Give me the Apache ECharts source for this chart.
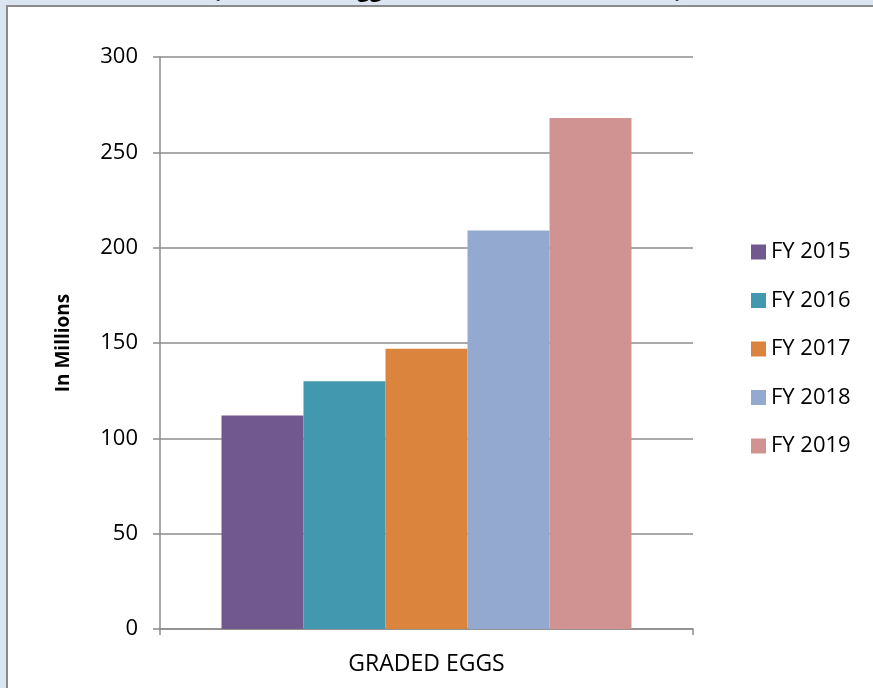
<!DOCTYPE html>
<html>
<head>
<meta charset="utf-8">
<title>Graded Eggs</title>
<script src="https://cdn.jsdelivr.net/npm/echarts@6/dist/echarts.min.js"></script>
<style>
  html, body { margin: 0; padding: 0; background: #dbe5f1; }
  #frame {
    position: absolute; left: 6px; top: 5px; width: 900px; height: 700px;
    background: #ffffff; border: 2px solid #8a8a8a; box-sizing: border-box;
  }
  #chart { position: absolute; left: 0; top: 0; width: 873px; height: 688px; }
</style>
</head>
<body>
<div id="frame"></div>
<div id="chart"></div>
<script>
// Graded egg volume per fiscal year, in millions
const categories = ['GRADED EGGS'];
const seriesNames = ['FY 2015', 'FY 2016', 'FY 2017', 'FY 2018', 'FY 2019'];
const fy2015 = [112];
const fy2016 = [130];
const fy2017 = [147];
const fy2018 = [209];
const fy2019 = [268];
const yTicks = [0, 50, 100, 150, 200, 250, 300];
const chartTitle = '(Number of Eggs in Millions, FY 2015 - 2019)';

const seriesValues = [fy2015, fy2016, fy2017, fy2018, fy2019];
const palette = ['#71588F', '#4198AF', '#DB843D', '#93A9CF', '#D19392'];
const font = 'Open Sans, Liberation Sans, sans-serif';
const lineGray = '#8c8c8c';

const chart = echarts.init(document.getElementById('chart'), null, { renderer: 'canvas' });

chart.setOption({
  backgroundColor: 'transparent',
  animation: false,
  color: palette,
  // The heading sits above the frame; only its lowest strokes fall inside the page
  graphic: [{
    type: 'text',
    x: 213,
    y: -20,
    style: {
      text: chartTitle,
      fill: '#000',
      font: 'bold 22px ' + font
    }
  }],
  legend: {
    orient: 'vertical',
    left: 751,
    top: 241,
    padding: 0,
    itemWidth: 15,
    itemHeight: 15,
    itemGap: 26.5,
    itemTextGap: 7,
    icon: 'rect',
    data: seriesNames,
    textStyle: { fontFamily: font, fontSize: 22, lineHeight: 22, color: '#000' }
  },
  grid: { left: 160, right: 180, top: 57, bottom: 59, containLabel: false },
  xAxis: {
    type: 'category',
    data: categories,
    boundaryGap: true,
    axisLine: { show: true, lineStyle: { color: lineGray, width: 1.5 } },
    axisTick: { show: true, length: 6, lineStyle: { color: lineGray, width: 1.5 } },
    axisLabel: { margin: 24, fontFamily: font, fontSize: 23, color: '#000' }
  },
  yAxis: {
    type: 'value',
    min: yTicks[0],
    max: yTicks[yTicks.length - 1],
    interval: yTicks[1] - yTicks[0],
    name: 'In Millions',
    nameLocation: 'middle',
    nameRotate: 90,
    nameGap: 87,
    nameTextStyle: { fontFamily: font, fontSize: 19, fontWeight: 'bold', color: '#000' },
    axisLine: { show: true, lineStyle: { color: lineGray, width: 1.5 } },
    axisTick: { show: true, length: 7, lineStyle: { color: lineGray, width: 1.5 } },
    axisLabel: { margin: 22, fontFamily: font, fontSize: 22, color: '#000' },
    splitLine: { show: true, lineStyle: { color: lineGray, width: 1.5 } }
  },
  series: seriesNames.map((name, i) => ({
    name: name,
    type: 'bar',
    data: seriesValues[i],
    barWidth: 82,
    barGap: '0%'
  }))
});
</script>
</body>
</html>
